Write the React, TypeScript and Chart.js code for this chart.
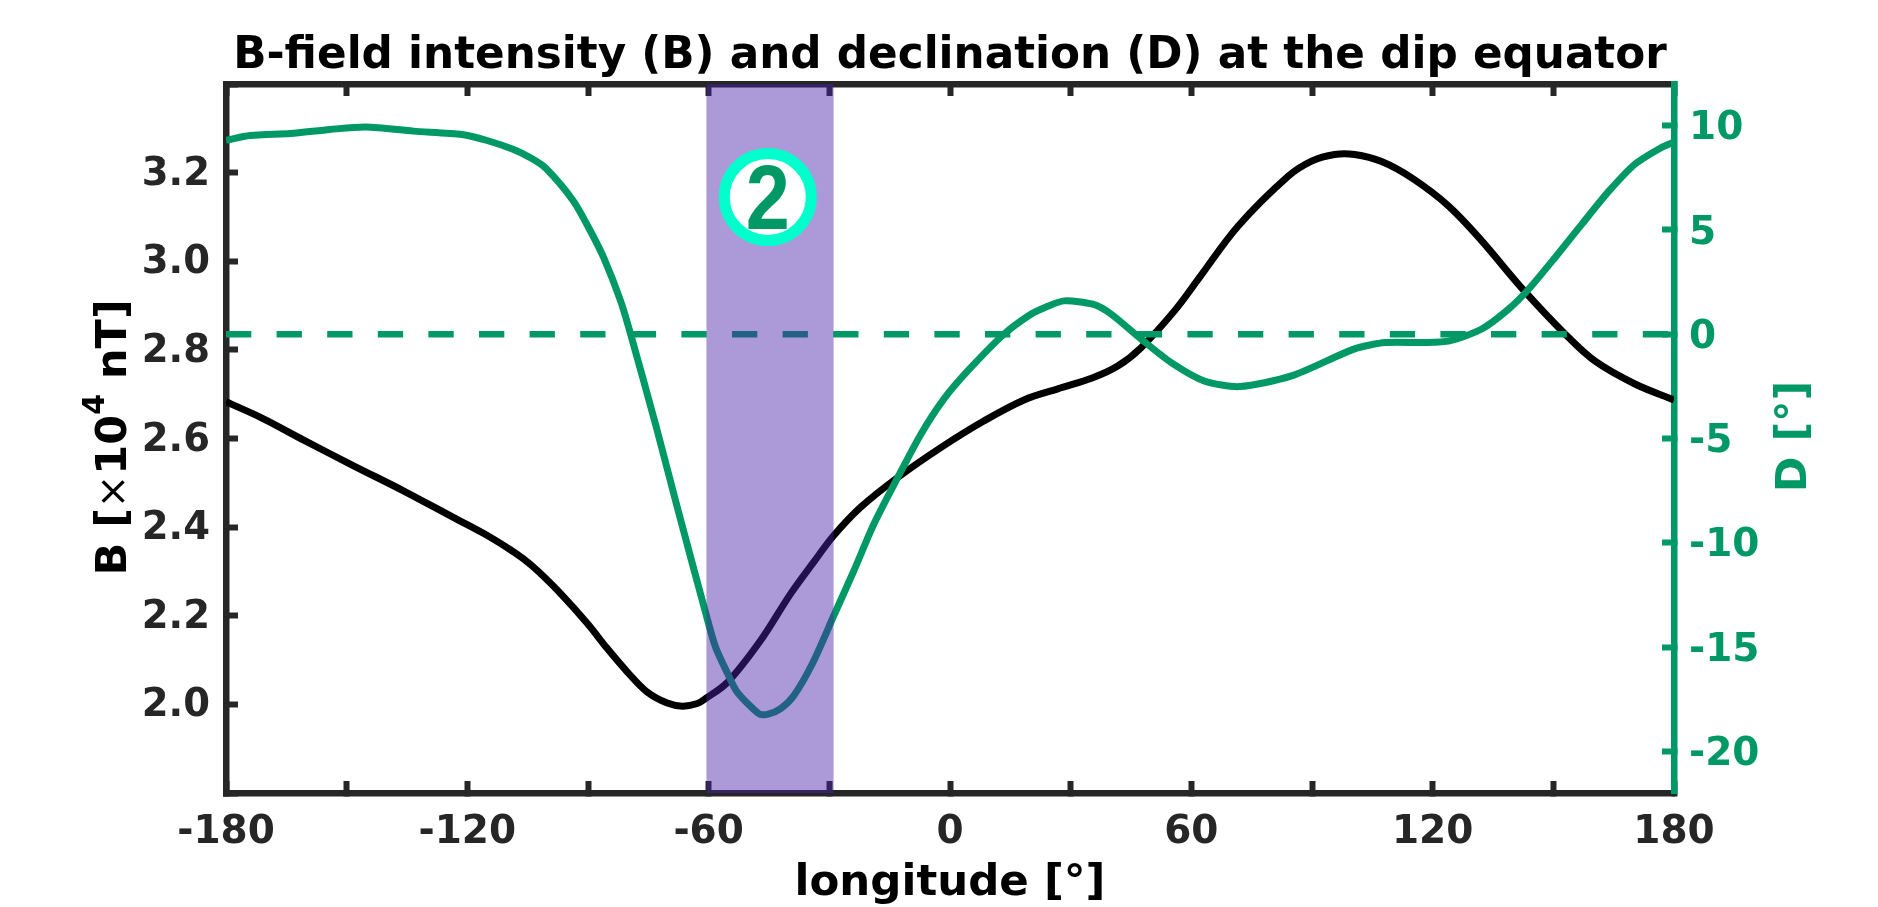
import React, { useEffect, useRef } from "react";
import { Chart, registerables } from "chart.js";

Chart.register(...registerables);

const FONT = "'DejaVu Sans'";
const DARK = "#262626";
const GREEN = "#009966";

const titleText = "B-field intensity (B) and declination (D) at the dip equator";
const xLabel = "longitude [°]";
const rightLabel = "D [°]";

const xTicks = [-180, -150, -120, -90, -60, -30, 0, 30, 60, 90, 120, 150, 180];
const xLabelled = [-180, -120, -60, 0, 60, 120, 180];
const bTicks = [1.8, 2.0, 2.2, 2.4, 2.6, 2.8, 3.0, 3.2, 3.4];
const bLabelled = [2.0, 2.2, 2.4, 2.6, 2.8, 3.0, 3.2];
const dTicks = [-20, -15, -10, -5, 0, 5, 10];

const bLon = [-180, -170.8, -160.8, -148.4, -135.9, -123.5, -116, -109.3, -106, -102.6, -96.8, -90.2, -85.2, -80.2, -75.3, -70.3, -66.5, -62.8, -60.8, -55.3, -47.1, -39.6, -33.9, -28.9, -22.2, -13, -2.2, 8.5, 18.4, 26.8, 35.5, 41.8, 47.5, 55.8, 62, 71.6, 84.1, 89.9, 95.6, 100.6, 107.3, 114.8, 123.9, 132.2, 142.1, 152.9, 160.3, 170.3, 180];
const bValues = [2.683, 2.645, 2.597, 2.539, 2.482, 2.422, 2.386, 2.349, 2.328, 2.302, 2.25, 2.183, 2.126, 2.073, 2.028, 2.003, 1.996, 2.002, 2.013, 2.05, 2.144, 2.25, 2.321, 2.381, 2.445, 2.512, 2.58, 2.64, 2.687, 2.712, 2.737, 2.764, 2.805, 2.888, 2.963, 3.079, 3.192, 3.226, 3.241, 3.241, 3.225, 3.188, 3.125, 3.046, 2.94, 2.836, 2.775, 2.723, 2.687];

const dLon = [-180, -174, -164, -154.1, -145.2, -133.4, -121.3, -115.1, -108.5, -104.3, -100.6, -93.6, -89.4, -86.1, -81.9, -79.4, -73, -67.8, -60.7, -58.3, -55.3, -52.9, -47.5, -45.4, -42.1, -38.8, -34.2, -28.9, -23.9, -18.9, -13, -7.2, -1.5, 4.4, 13.4, 20.2, 23.9, 28.4, 35.5, 40.1, 47.5, 55, 63.2, 72, 84.9, 100.6, 108.3, 118, 124.2, 132.2, 138.9, 143.9, 150.4, 157.1, 163.8, 170.3, 177, 180];
const dValues = [9.3, 9.53, 9.63, 9.82, 9.94, 9.74, 9.58, 9.29, 8.86, 8.46, 7.98, 6.38, 4.95, 3.67, 1.6, 0, -4.47, -8.3, -13.4, -15, -16.27, -17.16, -18.2, -18.23, -17.95, -17.32, -15.79, -13.5, -11.34, -9.09, -6.87, -4.78, -3.1, -1.76, 0, 0.97, 1.31, 1.6, 1.44, 0.96, -0.23, -1.36, -2.24, -2.51, -2, -0.7, -0.4, -0.4, -0.32, 0.25, 1.21, 2.17, 3.67, 5.28, 6.86, 8.16, 8.97, 9.22];

const zeroLon = [-180, 180];
const zeroD = [0, 0];
const bandLon = [-60.6, -28.9];
const bandTop = [3.4, 3.4];
const markerLon = [-45.3];
const markerB = [3.145];
const markerText = "2";

const zip = (xs: number[], ys: number[]) => xs.map((x, i) => ({ x, y: ys[i] }));

const labelsPlugin = {
  id: "labelsPlugin",
  afterDatasetsDraw(chart: any) {
    const { ctx, scales } = chart;
    const mx = scales.x.getPixelForValue(markerLon[0]);
    const my = scales.yB.getPixelForValue(markerB[0]);
    ctx.save();
    ctx.translate(mx, my + 32);
    ctx.scale(0.88, 1);
    ctx.fillStyle = GREEN;
    ctx.font = "bold 90px 'Liberation Sans'";
    ctx.textAlign = "center";
    ctx.textBaseline = "alphabetic";
    ctx.fillText(markerText, 0, 0);
    ctx.restore();
  },
  afterDraw(chart: any) {
    const { ctx, chartArea } = chart;
    const cy = (chartArea.top + chartArea.bottom) / 2;
    const bold = `bold 43px ${FONT}`;
    const segs = [
      { t: "B [", f: bold, r: 0 },
      { t: "×", f: `40px ${FONT}`, r: 0 },
      { t: "10", f: bold, r: 0 },
      { t: "4", f: `bold 30px ${FONT}`, r: 22 },
      { t: " nT]", f: bold, r: 0 },
    ];
    ctx.save();
    ctx.translate(chartArea.left - 100, cy - 1);
    ctx.rotate(-Math.PI / 2);
    ctx.fillStyle = "#000";
    ctx.textAlign = "left";
    ctx.textBaseline = "alphabetic";
    let total = 0;
    for (const s of segs) {
      ctx.font = s.f;
      total += ctx.measureText(s.t).width;
    }
    let p = -total / 2;
    for (const s of segs) {
      ctx.font = s.f;
      ctx.fillText(s.t, p, -s.r);
      p += ctx.measureText(s.t).width;
    }
    ctx.restore();

    ctx.save();
    ctx.translate(chartArea.right + 132, cy - 2);
    ctx.rotate(-Math.PI / 2);
    ctx.fillStyle = GREEN;
    ctx.font = bold;
    ctx.textAlign = "center";
    ctx.textBaseline = "alphabetic";
    ctx.fillText(rightLabel, 0, 0);
    ctx.restore();
  },
};

export default function App() {
  const ref = useRef<HTMLCanvasElement>(null);
  useEffect(() => {
    document.body.style.margin = "0";
    const setTicks = (list: number[]) => (scale: any) => {
      scale.ticks = list.map((value) => ({ value }));
    };
    const chart = new Chart(ref.current as HTMLCanvasElement, {
      type: "line",
      data: {
        datasets: [
          {
            label: "marker",
            data: zip(markerLon, markerB),
            xAxisID: "x",
            yAxisID: "yB",
            order: 0,
            showLine: false,
            pointRadius: 43.5,
            pointBorderWidth: 11,
            pointBackgroundColor: "#ffffff",
            pointBorderColor: "#00FFCC",
          },
          {
            label: "band",
            data: zip(bandLon, bandTop),
            xAxisID: "x",
            yAxisID: "yB",
            order: 1,
            borderWidth: 0,
            pointRadius: 0,
            fill: "start",
            backgroundColor: "rgba(75,32,168,0.46)",
          },
          {
            label: "B",
            data: zip(bLon, bValues),
            xAxisID: "x",
            yAxisID: "yB",
            order: 3,
            borderColor: "#000000",
            borderWidth: 7,
            pointRadius: 0,
            tension: 0.35,
          },
          {
            label: "D",
            data: zip(dLon, dValues),
            xAxisID: "x",
            yAxisID: "yD",
            order: 2,
            borderColor: GREEN,
            borderWidth: 7,
            pointRadius: 0,
            tension: 0.25,
          },
          {
            label: "D = 0",
            data: zip(zeroLon, zeroD),
            xAxisID: "x",
            yAxisID: "yD",
            order: 2,
            borderColor: GREEN,
            borderWidth: 6.5,
            borderDash: [25.3, 25.3],
            pointRadius: 0,
          },
        ] as any,
      },
      options: {
        responsive: false,
        animation: false,
        events: [],
        layout: { padding: 0 },
        plugins: {
          legend: { display: false },
          tooltip: { enabled: false },
          title: {
            display: true,
            fullSize: false,
            text: titleText,
            color: "#000",
            font: { family: FONT, weight: "bold", size: 43.7, lineHeight: 1.1 },
            padding: { top: 33, bottom: 0 },
          },
        },
        scales: {
          x: {
            type: "linear",
            position: "bottom",
            min: -180,
            max: 180,
            afterBuildTicks: setTicks(xTicks),
            afterFit: (s: any) => { s.height = 114; },
            border: { color: DARK, width: 6.5 },
            grid: { drawOnChartArea: false, tickLength: -12, tickWidth: 6, tickColor: DARK },
            ticks: {
              color: DARK,
              font: { family: FONT, weight: "bold", size: 39 },
              padding: 28,
              maxRotation: 0,
              autoSkip: false,
              callback: (v: any) => (xLabelled.includes(v) ? String(v) : ""),
            },
            title: {
              display: true,
              text: xLabel,
              color: "#000",
              font: { family: FONT, weight: "bold", size: 43.5, lineHeight: 1 },
              padding: { top: 0, bottom: 2 },
            },
          },
          xTop: {
            type: "linear",
            axis: "x",
            position: "top",
            min: -180,
            max: 180,
            afterBuildTicks: setTicks(xTicks),
            afterFit: (s: any) => { s.height = 2.93; },
            border: { color: DARK, width: 6.5 },
            grid: { drawOnChartArea: false, tickLength: -12, tickWidth: 6, tickColor: DARK },
            ticks: { display: false },
          },
          yB: {
            type: "linear",
            axis: "y",
            position: "left",
            min: 1.8,
            max: 3.4,
            afterBuildTicks: setTicks(bTicks),
            afterFit: (s: any) => { s.width = 226; },
            border: { color: DARK, width: 6.5 },
            grid: { drawOnChartArea: false, tickLength: -12, tickWidth: 6, tickColor: DARK },
            ticks: {
              color: DARK,
              font: { family: FONT, weight: "bold", size: 38.5 },
              padding: 28,
              labelOffset: 2,
              autoSkip: false,
              callback: (v: any) => (bLabelled.some((b) => Math.abs(b - v) < 1e-6) ? Number(v).toFixed(1) : ""),
            },
          },
          yD: {
            type: "linear",
            axis: "y",
            position: "right",
            min: -22,
            max: 12,
            afterBuildTicks: setTicks(dTicks),
            afterFit: (s: any) => { s.width = 204; },
            border: { color: GREEN, width: 6.5 },
            grid: { drawOnChartArea: false, tickLength: -12, tickWidth: 6, tickColor: GREEN },
            ticks: {
              color: GREEN,
              font: { family: FONT, weight: "bold", size: 39 },
              padding: 27,
              labelOffset: 3.5,
              autoSkip: false,
              callback: (v: any) => String(v),
            },
          },
        },
      } as any,
      plugins: [labelsPlugin],
    });
    return () => chart.destroy();
  }, []);
  return <canvas ref={ref} width={1878} height={907} style={{ display: "block" }} />;
}
